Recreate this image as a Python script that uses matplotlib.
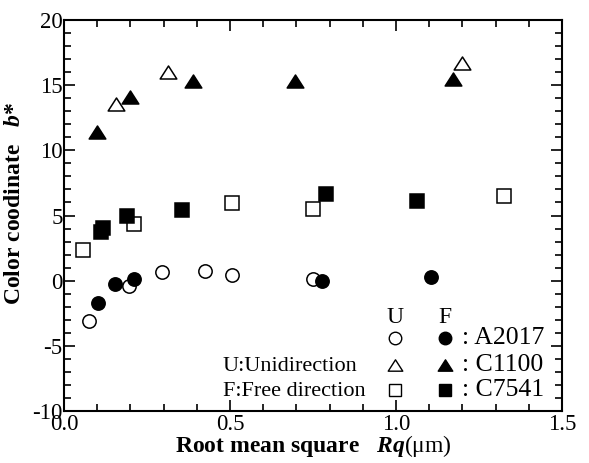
import numpy as np
import matplotlib
matplotlib.use("Agg")
import matplotlib.pyplot as plt
from matplotlib.path import Path

# ----- data -----
# A2017 (circles)
a2017_u_x = [0.076, 0.196, 0.295, 0.426, 0.507, 0.751]
a2017_u_y = [-3.12, -0.41, 0.67, 0.74, 0.44, 0.11]
a2017_f_x = [0.101, 0.154, 0.211, 0.776, 1.104]
a2017_f_y = [-1.74, -0.25, 0.13, -0.02, 0.26]

# C1100 (triangles)
c1100_u_x = [0.156, 0.312, 1.198]
c1100_u_y = [13.56, 15.99, 16.68]
c1100_f_x = [0.098, 0.199, 0.388, 0.696, 1.173]
c1100_f_y = [11.43, 14.12, 15.35, 15.33, 15.48]

# C7541 (squares)
c7541_u_x = [0.058, 0.212, 0.507, 0.749, 1.324]
c7541_u_y = [2.36, 4.35, 5.94, 5.48, 6.52]
c7541_f_x = [0.110, 0.116, 0.189, 0.356, 0.788, 1.062]
c7541_f_y = [3.72, 4.07, 4.97, 5.43, 6.65, 6.14]

materials = [": A2017", ": C1100", ": C7541"]

plt.rcParams["font.family"] = "Liberation Serif"
plt.rcParams["axes.unicode_minus"] = False
plt.rcParams["mathtext.fontset"] = "custom"
plt.rcParams["mathtext.it"] = "Liberation Serif:italic:bold"
plt.rcParams["mathtext.rm"] = "Liberation Serif"

# slightly flat triangle like the original
tri = Path([(-1, -0.78), (1, -0.78), (0, 0.78), (-1, -0.78)],
           [Path.MOVETO, Path.LINETO, Path.LINETO, Path.CLOSEPOLY])

fig = plt.figure(figsize=(5.89, 4.63), dpi=100)
ax = fig.add_axes([0.1087, 0.1123, 0.8455, 0.8445])

ms_c, ms_s, ms_t = 9.6, 9.4, 12
ew = 1.1

ax.plot(c7541_u_x, c7541_u_y, ls="none", marker="s", ms=ms_s, mfc="white", mec="black", mew=ew)
ax.plot(c7541_f_x, c7541_f_y, ls="none", marker="s", ms=ms_s, mfc="black", mec="black", mew=ew)
ax.plot(c1100_u_x, c1100_u_y, ls="none", marker=tri, ms=ms_t, mfc="white", mec="black", mew=ew)
ax.plot(c1100_f_x, c1100_f_y, ls="none", marker=tri, ms=ms_t, mfc="black", mec="black", mew=ew)
ax.plot(a2017_u_x, a2017_u_y, ls="none", marker="o", ms=ms_c, mfc="white", mec="black", mew=ew)
ax.plot(a2017_f_x, a2017_f_y, ls="none", marker="o", ms=ms_c, mfc="black", mec="black", mew=ew)

ax.set_xlim(0, 1.5)
ax.set_ylim(-10, 20)
ax.set_xticks([0, 0.5, 1.0, 1.5])
ax.set_xticklabels(["0.0", "0.5", "1.0", "1.5"])
ax.set_xticks(np.arange(0, 1.51, 0.1), minor=True)
ax.set_yticks([-10, -5, 0, 5, 10, 15, 20])
ax.set_yticks(np.arange(-10, 20.1, 1), minor=True)

ax.tick_params(which="both", direction="in", top=True, right=True, width=1.2, labelsize=16.5)
ax.tick_params(which="major", length=8)
ax.tick_params(which="minor", length=5)
ax.tick_params(axis="x", pad=2)
ax.tick_params(axis="y", pad=1)
for sp in ax.spines.values():
    sp.set_linewidth(1.5)

ax.set_xlabel("Root mean square   $Rq\\mathrm{(μm)}$", fontsize=17, fontweight="bold", labelpad=-1)
ax.set_ylabel("Color coodinate   $b$*", fontsize=17, fontweight="bold")
ax.yaxis.set_label_coords(-0.078, 0.532)

# hand-made legend
tr = ax.transAxes
ax.text(0.665, 0.238, "U", transform=tr, ha="center", va="center", fontsize=17)
ax.text(0.765, 0.238, "F", transform=tr, ha="center", va="center", fontsize=17)
rows_y = [0.187, 0.118, 0.054]
marks = ["o", tri, "s"]
sizes = [9, 10.5, 8]
for yy, mk, sz, lab in zip(rows_y, marks, sizes, materials):
    ax.plot([0.665], [yy], transform=tr, ls="none", marker=mk, ms=sz, mfc="white", mec="black", mew=1.0, clip_on=False)
    ax.plot([0.765], [yy], transform=tr, ls="none", marker=mk, ms=sz, mfc="black", mec="black", mew=1.0, clip_on=False)
    ax.text(0.799, yy, lab, transform=tr, ha="left", va="center", fontsize=18.5)

ax.text(0.319, 0.113, "U:Unidirection", transform=tr, ha="left", va="center", fontsize=16)
ax.text(0.319, 0.049, "F:Free direction", transform=tr, ha="left", va="center", fontsize=16)

fig.savefig("out.png", dpi=100)
